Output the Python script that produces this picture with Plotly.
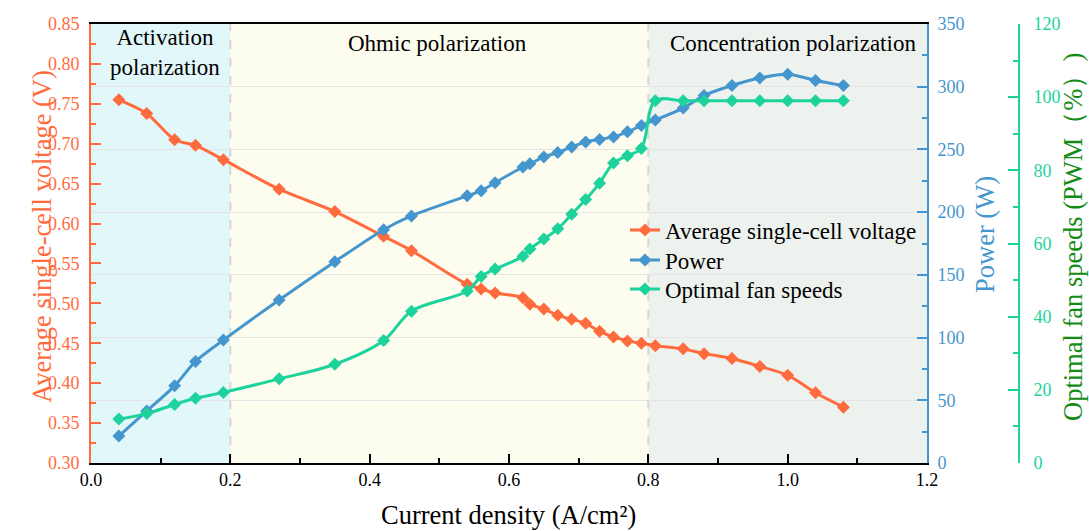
import plotly.graph_objects as go

# ---- data ----
current_density = [0.04, 0.08, 0.12, 0.15, 0.19, 0.27, 0.35, 0.42, 0.46, 0.54, 0.56, 0.58, 0.62, 0.63, 0.65,
                   0.67, 0.69, 0.71, 0.73, 0.75, 0.77, 0.79, 0.81, 0.85, 0.88, 0.92, 0.96, 1.00, 1.04, 1.08]
voltage = [0.755, 0.738, 0.705, 0.698, 0.680, 0.643, 0.615, 0.584, 0.566, 0.524, 0.518, 0.513, 0.507, 0.499, 0.493,
           0.485, 0.480, 0.475, 0.465, 0.458, 0.453, 0.450, 0.447, 0.443, 0.437, 0.431, 0.421, 0.410, 0.388, 0.370]
power = [21.5, 41.5, 61.5, 81, 98, 130, 160.5, 186, 197, 213, 217, 223.5, 236, 238.5, 244,
         247.5, 252, 256, 258, 260, 264, 269, 273.5, 283, 293, 301, 307, 310, 305, 301]
fan_speed = [12, 13.5, 16, 17.7, 19.3, 23, 27, 33.5, 41.5, 47, 51, 53, 56.5, 58.5, 61.2,
             64, 68, 72, 76.5, 82, 84, 86, 99, 99, 99, 99, 99, 99, 99, 99]

regions = [(0.0, 0.2, "#E1F7F9"), (0.2, 0.8, "#FDFDEF"), (0.8, 1.2, "#EDF2EE")]
region_labels = ["Activation<br>polarization", "Ohmic polarization", "Concentration polarization"]
region_label_x = [0.106, 0.497, 1.008]
boundaries = [0.2, 0.8]

ORANGE = "#FF6B3D"
BLUE = "#4596CE"
GREEN = "#1DD39B"
DKGREEN = "#148C14"
FONT = "Liberation Serif"

PW = 928.0
PH = 439.0


def px_x(p):
    return (p - 91) / PW


def px_y(p):
    return 1 - (p - 24) / PH


fig = go.Figure()
fig.add_trace(go.Scatter(x=current_density, y=voltage, name="Average single-cell voltage",
                         mode="lines+markers", line=dict(color=ORANGE, width=3, shape="spline", smoothing=0.8),
                         marker=dict(symbol="diamond", size=10, color=ORANGE), yaxis="y", legend="legend"))
fig.add_trace(go.Scatter(x=current_density, y=power, name="Power",
                         mode="lines+markers", line=dict(color=BLUE, width=3, shape="spline", smoothing=0.8),
                         marker=dict(symbol="diamond", size=10, color=BLUE), yaxis="y2", legend="legend2"))
fig.add_trace(go.Scatter(x=current_density, y=fan_speed, name="Optimal fan speeds",
                         mode="lines+markers", line=dict(color=GREEN, width=3, shape="spline", smoothing=1.0),
                         marker=dict(symbol="diamond", size=10, color=GREEN), yaxis="y3", legend="legend3"))

shapes = []
for x0, x1, c in regions:
    shapes.append(dict(type="rect", xref="x", yref="paper", x0=x0, x1=x1, y0=0, y1=1,
                       fillcolor=c, line=dict(width=0), layer="below"))
for b in boundaries:
    shapes.append(dict(type="line", xref="x", yref="paper", x0=b, x1=b, y0=0, y1=1,
                       line=dict(color="#D6D6D6", width=2, dash="dash"), layer="below"))

annotations = []
label_y = [52, 44, 44]
for lx, ly, t in zip(region_label_x, label_y, region_labels):
    annotations.append(dict(x=lx, y=px_y(ly), xref="x", yref="paper", text=t, showarrow=False,
                            xanchor="center", yanchor="middle",
                            font=dict(family=FONT, size=23, color="black")))

TS = 26.5
annotations += [
    dict(x=px_x(42), y=px_y(237), xref="paper", yref="paper", text="Average single-cell voltage (V)",
         textangle=-90, showarrow=False, xanchor="center", yanchor="middle",
         font=dict(family=FONT, size=TS, color=ORANGE)),
    dict(x=px_x(985), y=px_y(235), xref="paper", yref="paper", text="Power (W)",
         textangle=-90, showarrow=False, xanchor="center", yanchor="middle",
         font=dict(family=FONT, size=TS, color=BLUE)),
    dict(x=px_x(1073), y=px_y(237), xref="paper", yref="paper", text="Optimal fan speeds (PWM（%）)",
         textangle=-90, showarrow=False, xanchor="center", yanchor="middle",
         font=dict(family=FONT, size=TS, color=DKGREEN)),
    dict(x=px_x(508), y=px_y(515), xref="paper", yref="paper", text="Current density (A/cm²)",
         showarrow=False, xanchor="center", yanchor="middle",
         font=dict(family=FONT, size=TS, color="black")),
]

legend_common = dict(xanchor="left", yanchor="middle", bgcolor="rgba(0,0,0,0)",
                     font=dict(family=FONT, size=23, color="black"))

fig.update_layout(
    width=1089, height=531,
    margin=dict(l=91, r=70, t=24, b=68),
    paper_bgcolor="white", plot_bgcolor="white",
    font=dict(family=FONT, size=18),
    showlegend=True,
    legend=dict(x=px_x(625), y=px_y(230), **legend_common),
    legend2=dict(x=px_x(625), y=px_y(260), **legend_common),
    legend3=dict(x=px_x(625), y=px_y(289), **legend_common),
    shapes=shapes, annotations=annotations,
    xaxis=dict(domain=[0, 836 / PW], range=[0, 1.2], dtick=0.2, tick0=0,
               showgrid=False, zeroline=False, showline=True, linecolor="black", linewidth=2, mirror=True,
               ticks="inside", ticklen=9, tickwidth=1.5, tickcolor="black",
               minor=dict(dtick=0.1, ticks="inside", ticklen=5, tickcolor="black", showgrid=False),
               tickfont=dict(family=FONT, size=18, color="black"), tickformat=".1f", ticklabelstandoff=-1),
    yaxis=dict(range=[0.30, 0.85], dtick=0.05, tick0=0.30, showgrid=False, zeroline=False,
               showline=True, linecolor=ORANGE, linewidth=2,
               ticks="inside", ticklen=10, tickwidth=2, tickcolor=ORANGE,
               minor=dict(dtick=0.025, ticks="inside", ticklen=5, tickcolor=ORANGE, showgrid=False),
               tickfont=dict(family=FONT, size=18, color=ORANGE), tickformat=".2f", ticklabelstandoff=6),
    yaxis2=dict(range=[0, 350], dtick=50, overlaying="y", side="right", anchor="x",
                showgrid=True, gridcolor="#E4E4E4", gridwidth=1, zeroline=False,
                showline=True, linecolor=BLUE, linewidth=2,
                ticks="inside", ticklen=10, tickwidth=2, tickcolor=BLUE,
                minor=dict(dtick=25, ticks="inside", ticklen=5, tickcolor=BLUE, showgrid=False),
                tickfont=dict(family=FONT, size=18, color=BLUE), ticklabelstandoff=5),
    yaxis3=dict(range=[0, 120], dtick=20, overlaying="y", side="right", anchor="free", position=1.0,
                showgrid=False, zeroline=False,
                showline=True, linecolor=GREEN, linewidth=2,
                ticks="inside", ticklen=10, tickwidth=2, tickcolor=GREEN,
                minor=dict(dtick=10, ticks="inside", ticklen=5, tickcolor=GREEN, showgrid=False),
                tickfont=dict(family=FONT, size=18, color=GREEN), ticklabelstandoff=10),
)

fig.write_html("out.html")
